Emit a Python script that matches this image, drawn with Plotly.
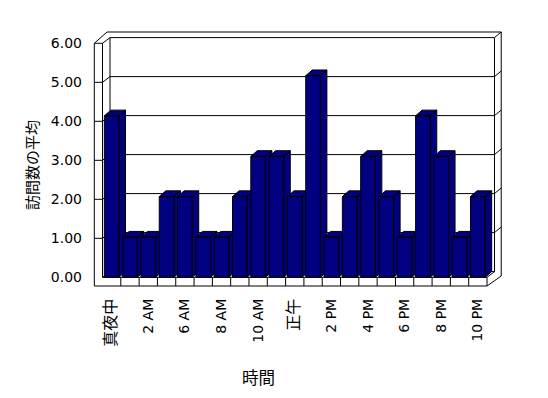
import plotly.graph_objects as go

# ---- data ----
categories = ["真夜中", "1 AM", "2 AM", "3 AM", "6 AM", "7 AM", "8 AM", "9 AM", "10 AM", "11 AM",
              "正午", "1 PM", "2 PM", "3 PM", "4 PM", "5 PM", "6 PM", "7 PM", "8 PM", "9 PM", "10 PM"]
values = [4.14, 1.03, 1.03, 2.07, 2.07, 1.03, 1.03, 2.07, 3.10, 3.10,
          2.07, 5.17, 1.03, 2.07, 3.10, 2.07, 1.03, 4.14, 3.10, 1.03, 2.07]
y_ticks = [0, 1, 2, 3, 4, 5, 6]
y_ticktext = [f"{v:.2f}" for v in y_ticks]
x_title = "時間"
y_title = "訪問数の平均"

# ---- layout geometry (pixels) ----
W, H = 548, 398
L, R, T, B = 92, 502, 30, 288
CAT_PX = 18.31
UNIT_PX = 39.0
FRONT_LEFT_PX = 102.5
BASE_PX = 277.3

n = len(categories)
x_lo = -0.5 - (FRONT_LEFT_PX - L) / CAT_PX
x_hi = x_lo + (R - L) / CAT_PX
y_lo = -(B - BASE_PX) / UNIT_PX
y_hi = y_lo + (B - T) / UNIT_PX


def hx(p):
    return p / CAT_PX


def hy(p):
    return p / UNIT_PX


def is_cjk(s):
    return any(ord(c) > 0x2E80 for c in s)


NAVY = "#000080"
BLACK = "#000000"

fig = go.Figure()

# ---- 3D-looking bars ----
BW = 0.4
bdx, bdy = hx(6.5), hy(5.7)
for i, v in enumerate(values):
    xl, xr = i - BW, i + BW
    xs, ys = [], []
    polys = [
        [(xl, 0), (xr, 0), (xr, v), (xl, v), (xl, 0)],
        [(xl, v), (xr, v), (xr + bdx, v + bdy), (xl + bdx, v + bdy), (xl, v)],
        [(xr, 0), (xr + bdx, bdy), (xr + bdx, v + bdy), (xr, v), (xr, 0)],
    ]
    for k, poly in enumerate(polys):
        if k:
            xs.append(None)
            ys.append(None)
        xs += [p[0] for p in poly]
        ys += [p[1] for p in poly]
    fig.add_trace(go.Scatter(x=xs, y=ys, mode="lines", fill="toself",
                             fillcolor=NAVY, line=dict(color=BLACK, width=1),
                             hoverinfo="skip", showlegend=False))

# ---- walls / floor frame ----
X0, X1 = -0.5, n - 0.5
Y0, Y1 = 0.0, float(y_ticks[-1])
DX, DY = hx(7.5), hy(5.7)        # depth offset of back wall
TL, TB = hx(8.2), hy(8.7)        # front wall / floor thickness
TR, TT = hx(6.7), hy(5.6)        # back wall thickness

segs = []
# left front strip
segs += [((X0 - TL, Y1), (X0 - TL, Y0 - TB)),
         ((X0, Y1), (X0, Y0)),
         ((X0 - TL, Y1), (X0, Y1))]
# floor front strip
segs += [((X0, Y0), (X1, Y0)),
         ((X0 - TL, Y0 - TB), (X1, Y0 - TB)),
         ((X1, Y0), (X1, Y0 - TB))]
for k in range(1, n):
    segs.append(((X0 + k, Y0), (X0 + k, Y0 - TB)))
# side wall top and back wall
segs += [((X0, Y1), (X0 + DX, Y1 + DY)),
         ((X0 + DX, Y1 + DY), (X1 + DX, Y1 + DY)),
         ((X0 + DX, Y1 + DY), (X0 + DX, Y0 + DY)),
         ((X1 + DX, Y1 + DY), (X1 + DX, Y0 + DY)),
         ((X0 + DX, Y0 + DY), (X1 + DX, Y0 + DY)),
         ((X0, Y0), (X0 + DX, Y0 + DY)),
         ((X1, Y0), (X1 + DX, Y0 + DY))]
# outer edges of wall thickness
top_out = Y1 + DY + TT
segs += [((X0 - TL, Y1), (X0 + hx(4.5), top_out)),
         ((X0 + hx(4.5), top_out), (X1 + DX + TR, top_out)),
         ((X1 + DX, Y1 + DY), (X1 + DX + TR, top_out)),
         ((X1 + DX + TR, top_out), (X1 + DX + TR, Y0 + hy(1.3))),
         ((X1 + DX + TR, Y0 + hy(1.3)), (X1, Y0 - TB))]
# gridlines
for v in y_ticks[1:-1]:
    segs += [((X0 + DX, v + DY), (X1 + DX, v + DY)),
             ((X0, v), (X0 + DX, v + DY)),
             ((X1 + DX, v + DY), (X1 + DX + TR, v + DY + TT)),
             ((X0 - TL, v), (X0, v))]

shapes = [dict(type="line", xref="x", yref="y", x0=a[0], y0=a[1], x1=b[0], y1=b[1],
               line=dict(color=BLACK, width=1), layer="below") for a, b in segs]

FONT = "DejaVu Sans, Noto Sans CJK JP, sans-serif"
JFONT = "Noto Sans CJK JP, sans-serif"

x_ticktext = [f'<span style="font-size:16px;color:#000000">{c}</span>' if is_cjk(c) else c
              for c in categories[::2]]

annotations = [
    dict(text=y_title, xref="paper", yref="paper",
         x=(31 - L) / (R - L), y=(B - 165) / (B - T), textangle=-90,
         showarrow=False, xanchor="center", yanchor="middle",
         font=dict(family=JFONT, size=15, color=BLACK)),
    dict(text=x_title, xref="paper", yref="paper",
         x=(258 - L) / (R - L), y=(B - 377) / (B - T),
         showarrow=False, xanchor="center", yanchor="middle",
         font=dict(family=JFONT, size=16.5, color=BLACK)),
]

fig.update_layout(
    width=W, height=H,
    margin=dict(l=L, r=W - R, t=T, b=H - B, pad=0),
    paper_bgcolor="white", plot_bgcolor="white",
    shapes=shapes, annotations=annotations,
    showlegend=False,
    font=dict(family=FONT, size=14, color=BLACK),
    xaxis=dict(range=[x_lo, x_hi], showgrid=False, zeroline=False, showline=False,
               ticks="", tickmode="array",
               tickvals=list(range(0, n, 2)), ticktext=x_ticktext,
               tickangle=-90, ticklabelstandoff=7, fixedrange=True,
               tickfont=dict(color=BLACK)),
    yaxis=dict(range=[y_lo, y_hi], showgrid=False, zeroline=False, showline=False,
               ticks="", tickmode="array", tickvals=y_ticks, ticktext=y_ticktext,
               ticklabelstandoff=9, fixedrange=True, tickfont=dict(color=BLACK)),
)

fig.write_html("out.html")
